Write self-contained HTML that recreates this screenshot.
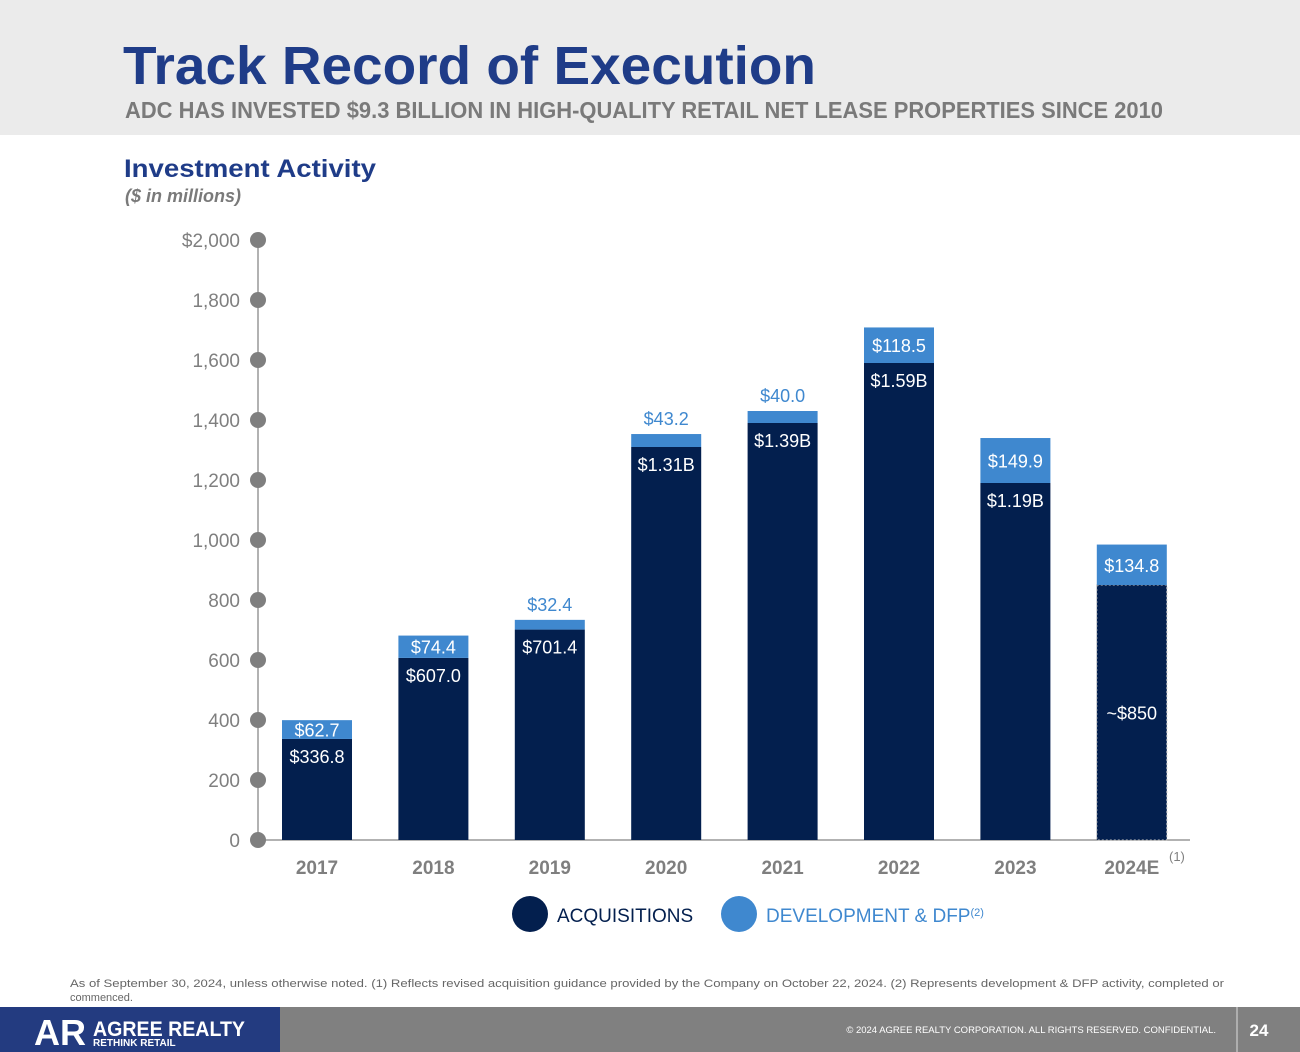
<!DOCTYPE html>
<html><head><meta charset="utf-8"><style>
html,body{margin:0;padding:0;background:#fff;}
svg{display:block;font-family:"Liberation Sans",sans-serif;}
</style></head><body>
<svg width="1300" height="1052" viewBox="0 0 1300 1052">
<rect x="0" y="0" width="1300" height="135" fill="#ebebeb"/>
<text x="123" y="84" font-size="54" font-weight="bold" fill="#1f3c88" textLength="693" lengthAdjust="spacingAndGlyphs">Track Record of Execution</text>
<text x="125" y="118" font-size="23" font-weight="bold" fill="#7a7a7a" textLength="1038" lengthAdjust="spacingAndGlyphs">ADC HAS INVESTED $9.3 BILLION IN HIGH-QUALITY RETAIL NET LEASE PROPERTIES SINCE 2010</text>
<text x="124" y="177" font-size="25" font-weight="bold" fill="#1f3c88" textLength="252" lengthAdjust="spacingAndGlyphs">Investment Activity</text>
<text x="125" y="202" font-size="18" font-style="italic" font-weight="bold" fill="#7a7a7a">($ in millions)</text>
<g id="chart"></g>
<g>
<circle cx="530" cy="914" r="18" fill="#031f4e"/>
<text x="557" y="922" font-size="19" fill="#031f4e">ACQUISITIONS</text>
<circle cx="739" cy="914" r="18" fill="#3f88cf"/>
<text x="766" y="922" font-size="19" fill="#3f88cf">DEVELOPMENT &amp; DFP<tspan font-size="11" dy="-6">(2)</tspan></text>
</g>
<text x="70" y="987" font-size="11" fill="#666" textLength="1154" lengthAdjust="spacingAndGlyphs">As of September 30, 2024, unless otherwise noted. (1) Reflects revised acquisition guidance provided by the Company on October 22, 2024. (2) Represents development &amp; DFP activity, completed or</text>
<text x="70" y="1001" font-size="11" fill="#666">commenced.</text>
<rect x="0" y="1007" width="1300" height="45" fill="#808080"/>
<rect x="0" y="1007" width="280" height="45" fill="#233b80"/>
<text x="34" y="1045" font-size="36" font-weight="bold" fill="#fff">AR</text>
<text x="93" y="1036" font-size="21" font-weight="bold" fill="#fff" textLength="152" lengthAdjust="spacingAndGlyphs">AGREE REALTY</text>
<text x="93" y="1046" font-size="10" font-weight="bold" fill="#fff">RETHINK RETAIL</text>
<text x="1216" y="1033" font-size="9.5" fill="#fff" text-anchor="end">© 2024 AGREE REALTY CORPORATION. ALL RIGHTS RESERVED. CONFIDENTIAL.</text>
<line x1="1237" y1="1007" x2="1237" y2="1052" stroke="#ddd"/>
<text x="1259" y="1036" font-size="17" font-weight="bold" fill="#fff" text-anchor="middle">24</text>
</svg>
<script>
const categories=["2017","2018","2019","2020","2021","2022","2023","2024E"];
const acquisitions=[336.8,607.0,701.4,1310,1390,1590,1190,850];
const development=[62.7,74.4,32.4,43.2,40.0,118.5,149.9,134.8];
const acqLabels=["$336.8","$607.0","$701.4","$1.31B","$1.39B","$1.59B","$1.19B","~$850"];
const devLabels=["$62.7","$74.4","$32.4","$43.2","$40.0","$118.5","$149.9","$134.8"];
const yTicks=[0,200,400,600,800,1000,1200,1400,1600,1800,2000];
const tickLabels=["0","200","400","600","800","1,000","1,200","1,400","1,600","1,800","$2,000"];

const NS="http://www.w3.org/2000/svg";
const g=document.getElementById('chart');
const y=v=>840-v*0.3;
const x=i=>317+i*116.4;
const bw=70;
function mk(t,a,txt){const e=document.createElementNS(NS,t);for(const k in a)e.setAttribute(k,a[k]);if(txt!=null)e.textContent=txt;g.appendChild(e);return e;}

let ax=mk('line',{x1:258,y1:y(2000),x2:258,y2:840,stroke:'#999','stroke-width':1.5});


let bx=mk('line',{x1:258,y1:840,x2:1190,y2:840,stroke:'#999','stroke-width':1.5});


yTicks.forEach((v,i)=>{
  let c=mk('circle',{cx:258,cy:y(v),r:8,fill:'#7f7f7f'});
  
  
  let t=mk('text',{x:240,y:y(v)+7,'font-size':19,fill:'#7f7f7f','text-anchor':'end'},tickLabels[i]);
  
  
});
categories.forEach((c,i)=>{
  const cx=x(i),a=acquisitions[i],d=development[i];
  let r=mk('rect',{x:cx-bw/2,y:y(a),width:bw,height:840-y(a),fill:'#031f4e'});
  if(i===categories.length-1){r.setAttribute('stroke','#bbb');r.setAttribute('stroke-dasharray','2,2');}
  
  
  let r2=mk('rect',{x:cx-bw/2,y:y(a+d),width:bw,height:y(a)-y(a+d),fill:'#3f88cf'});
  
  
  const inside=(y(a)-y(a+d))>17;
  let dl=mk('text',{x:cx,y:inside?(y(a+d)+y(a))/2+7:y(a+d)-9,'font-size':18,fill:inside?'#fff':'#3f88cf','text-anchor':'middle'},devLabels[i]);
  
  
  const ly=i===categories.length-1?(y(a)+840)/2+7:y(a)+24;
  let al=mk('text',{x:cx,y:ly,'font-size':18,fill:'#fff','text-anchor':'middle'},acqLabels[i]);
  
  
  let xl=mk('text',{x:cx,y:874,'font-size':19,'font-weight':'bold',fill:'#7f7f7f','text-anchor':'middle'},c);
  
  
});
let fn=mk('text',{x:1169,y:861,'font-size':13,fill:'#7f7f7f'},'(1)');


</script>
</body></html>
